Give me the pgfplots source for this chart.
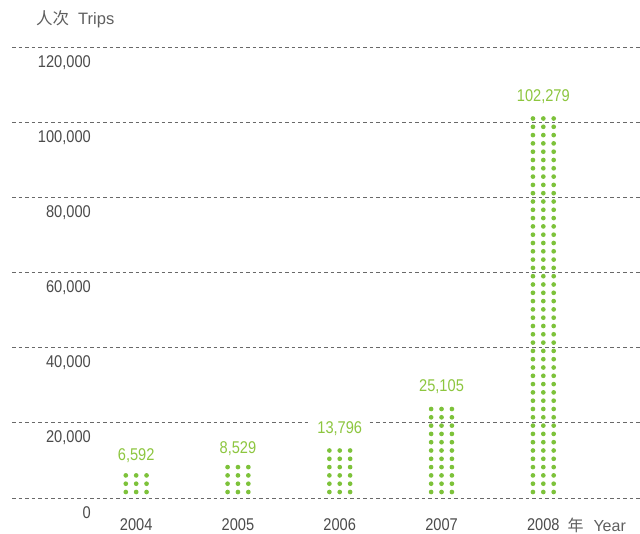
\documentclass[border=0pt]{standalone}
\usepackage{pgfplots}
\pgfplotsset{compat=1.18}
\usepackage{pgfplotstable}
\usepackage{fontspec}
\setmainfont{Liberation Sans}
\newfontfamily\cond{Liberation Sans}[FakeStretch=0.86]
\newfontfamily\cjk{Noto Sans CJK SC}
\definecolor{dotgreen}{RGB}{125,194,58}
\definecolor{labgreen}{RGB}{141,198,63}
\definecolor{txtgray}{RGB}{75,75,75}
\definecolor{titlegray}{RGB}{95,95,95}
\definecolor{gridgray}{RGB}{105,105,105}

\pgfplotstableread{
x y lab
2004 6592 6,592
2005 8529 8,529
2006 13796 13,796
2007 25105 25,105
2008 102279 102,279
}\trips

\begin{document}
\begin{tikzpicture}
\begin{axis}[
  scale only axis, width=628pt, height=451pt,
  xmin=2002.78, xmax=2008.95, ymin=0, ymax=120000,
  axis line style={draw=none}, major tick length=0pt,
  xtick={2004,2005,2006,2007,2008},
  xticklabels={2004,2005,2006,2007,2008},
  ytick={0,20000,40000,60000,80000,100000,120000},
  yticklabels={0,{20,000},{40,000},{60,000},{80,000},{100,000},{120,000}},
  scaled ticks=false,
  ymajorgrids,
  major grid style={draw=gridgray, line width=0.8pt, dash pattern=on 3.5pt off 3pt},
  ticklabel style={font=\cond\fontsize{17}{19}\selectfont, text=txtgray, inner sep=0pt},
  yticklabel style={anchor=north east, xshift=79pt, yshift=-8pt},
  xticklabel style={anchor=north, yshift=-20pt},
  clip=false,
  dotcol/.style={ycomb, draw=dotgreen, line width=4.7pt, line cap=round,
    dash pattern=on 0pt off 8.3pt, dash phase=2.3pt, mark=none},
]
\addplot[dotcol] table[x expr=\thisrow{x}-0.102, y=y] {\trips};
\addplot[dotcol] table[x expr=\thisrow{x}+0.102, y=y] {\trips};
\addplot[dotcol, point meta=explicit symbolic, nodes near coords={\pgfplotspointmeta},
  nodes near coords style={anchor=south, fill=white, inner xsep=6pt, inner ysep=2pt,
    yshift=6pt, font=\cond\fontsize{17}{19}\selectfont, text=labgreen}]
  table[x=x, y=y, meta=lab] {\trips};
\coordinate (SW) at (rel axis cs:0,0);
\coordinate (NE) at (rel axis cs:1,1);
\node[anchor=west, inner sep=0pt, text=titlegray, font=\fontsize{16.5}{19}\selectfont]
  at ([xshift=24pt, yshift=28pt]rel axis cs:0,1) {{\cjk 人次}\hspace{9pt}Trips};
\node[anchor=base west, inner sep=0pt, text=titlegray, font=\fontsize{16}{19}\selectfont]
  at ([xshift=24pt, yshift=-33pt]axis cs:2008,0) {{\cjk 年}\hspace{10pt}Year};
\end{axis}
\pgfresetboundingbox
\path ([xshift=-12pt, yshift=-35pt]SW) rectangle ([yshift=47pt]NE);
\end{tikzpicture}
\end{document}
